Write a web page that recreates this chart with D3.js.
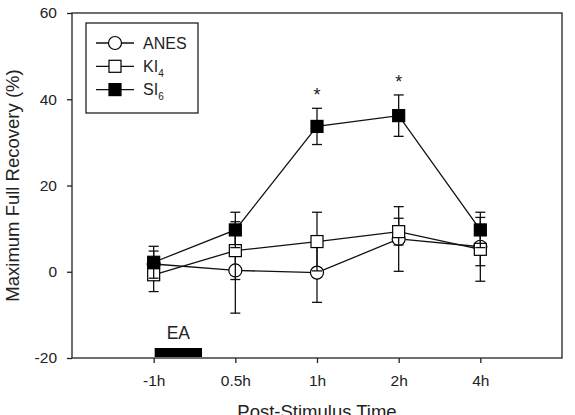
<!DOCTYPE html>
<html>
<head>
<meta charset="utf-8">
<script src="https://cdn.jsdelivr.net/npm/d3@7"></script>
<style>
  body { margin: 0; background: #fff; }
  svg { display: block; }
  text { font-family: "Liberation Sans", Arial, sans-serif; fill: #222; }
</style>
</head>
<body>
<div id="chart"></div>
<script>
'use strict'

// tick labels / categories
const times = ['-1h', '0.5h', '1h', '2h', '4h']
const yTicks = [-20, 0, 20, 40, 60]

// series values (mean, error)
const anesMean = [1.8, 0.3, -0.2, 7.6, 5.8]
const anesErr = [3.0, 9.9, 6.9, 7.5, 4.4]
const kiMean = [-0.7, 4.9, 7.0, 9.3, 5.2]
const kiErr = [3.9, 6.7, 6.8, 3.1, 7.4]
const siMean = [2.2, 9.7, 33.7, 36.2, 9.7]
const siErr = [3.7, 4.1, 4.2, 4.8, 4.1]

// significance markers
const starIdx = [2, 3]
// stimulus (EA) period, in category units
const eaSpan = [0, 0.58]

const svgWidth = 575, svgHeight = 415
const margin = {left: 72, right: 13, top: 13, bottom: 57}

const svg = d3.select('#chart').append('svg')
    .attr('width', svgWidth)
    .attr('height', svgHeight)

const x = d3.scaleLinear().domain([-1, times.length]).range([margin.left, svgWidth - margin.right])
const y = d3.scaleLinear().domain([-20, 60]).range([svgHeight - margin.bottom, margin.top])

const series = [
    {name: 'ANES', sub: '', mean: anesMean, err: anesErr, shape: 'circle', fill: '#fff'},
    {name: 'KI', sub: '4', mean: kiMean, err: kiErr, shape: 'square', fill: '#fff'},
    {name: 'SI', sub: '6', mean: siMean, err: siErr, shape: 'square', fill: '#000'}
]

// frame
svg.append('rect')
    .attr('x', x.range()[0]).attr('y', y.range()[1])
    .attr('width', x.range()[1] - x.range()[0])
    .attr('height', y.range()[0] - y.range()[1])
    .attr('fill', 'none')
    .attr('stroke', '#222')
    .attr('stroke-width', 1.3)

// axes
const xAxis = svg.append('g')
    .attr('transform', `translate(0,${y.range()[0]})`)
    .call(d3.axisBottom(x).tickValues(d3.range(times.length)).tickFormat(i => times[i]).tickSize(5).tickPadding(12))
const yAxis = svg.append('g')
    .attr('transform', `translate(${x.range()[0]},0)`)
    .call(d3.axisLeft(y).tickValues(yTicks).tickFormat(d => String(d)).tickSize(5).tickPadding(10))

;[xAxis, yAxis].forEach(g => {
    g.select('.domain').remove()
    g.selectAll('line').attr('stroke', '#222').attr('stroke-width', 1.3)
    g.selectAll('text').attr('font-size', 15.5).attr('fill', '#222')
        .attr('font-family', '"Liberation Sans", Arial, sans-serif')
})

// axis titles
svg.append('text')
    .attr('x', (x.range()[0] + x.range()[1]) / 2)
    .attr('y', 418)
    .attr('text-anchor', 'middle')
    .attr('font-size', 18.5)
    .text('Post-Stimulus Time')

svg.append('text')
    .attr('transform', `translate(19,${(y.range()[0] + y.range()[1]) / 2}) rotate(-90)`)
    .attr('text-anchor', 'middle')
    .attr('font-size', 18.5)
    .text('Maximum Full Recovery (%)')

// EA bar
svg.append('rect')
    .attr('x', x(eaSpan[0]) + 1)
    .attr('width', x(eaSpan[1]) - x(eaSpan[0]))
    .attr('y', y.range()[0] - 10)
    .attr('height', 9)
    .attr('fill', '#000')
svg.append('text')
    .attr('x', (x(eaSpan[0]) + x(eaSpan[1])) / 2 + 1)
    .attr('y', 339)
    .attr('text-anchor', 'middle')
    .attr('font-size', 17.5)
    .text('EA')

function marker(g, shape, fill) {
    if (shape === 'circle') {
        g.append('circle').attr('r', 6.5)
            .attr('fill', fill).attr('stroke', '#000').attr('stroke-width', 1.2)
    } else {
        g.append('rect').attr('x', -6).attr('y', -6).attr('width', 12).attr('height', 12)
            .attr('fill', fill).attr('stroke', '#000').attr('stroke-width', 1.2)
    }
}

const line = d3.line().x((d, i) => x(i)).y(d => y(d))
const cap = 5

series.forEach(s => {
    const g = svg.append('g')
    g.append('path')
        .attr('d', line(s.mean))
        .attr('fill', 'none')
        .attr('stroke', '#111')
        .attr('stroke-width', 1.3)

    const eb = g.selectAll('.eb').data(s.mean).join('g')
    eb.append('line')
        .attr('x1', (d, i) => x(i)).attr('x2', (d, i) => x(i))
        .attr('y1', (d, i) => y(d + s.err[i])).attr('y2', (d, i) => y(d - s.err[i]))
    eb.append('line')
        .attr('x1', (d, i) => x(i) - cap).attr('x2', (d, i) => x(i) + cap)
        .attr('y1', (d, i) => y(d + s.err[i])).attr('y2', (d, i) => y(d + s.err[i]))
    eb.append('line')
        .attr('x1', (d, i) => x(i) - cap).attr('x2', (d, i) => x(i) + cap)
        .attr('y1', (d, i) => y(d - s.err[i])).attr('y2', (d, i) => y(d - s.err[i]))
    eb.selectAll('line').attr('stroke', '#111').attr('stroke-width', 1.3)

    g.selectAll('.pt').data(s.mean).join('g')
        .attr('transform', (d, i) => `translate(${x(i)},${y(d)})`)
        .each(function () { marker(d3.select(this), s.shape, s.fill) })
})

// stars
svg.selectAll('.star').data(starIdx).join('text')
    .attr('x', i => x(i))
    .attr('y', i => y(siMean[i] + siErr[i]) - 7)
    .attr('text-anchor', 'middle')
    .attr('font-size', 18)
    .text('*')

// legend
const legend = svg.append('g').attr('transform', 'translate(86,23)')
legend.append('rect')
    .attr('width', 112).attr('height', 90)
    .attr('fill', '#fff').attr('stroke', '#222').attr('stroke-width', 1.3)

series.forEach((s, k) => {
    const row = legend.append('g').attr('transform', `translate(0,${20 + k * 23.3})`)
    row.append('line').attr('x1', 10).attr('x2', 48).attr('stroke', '#111').attr('stroke-width', 1.3)
    marker(row.append('g').attr('transform', 'translate(29,0)'), s.shape, s.fill)
    const t = row.append('text').attr('x', 57).attr('dy', '0.35em').attr('font-size', 16)
    t.append('tspan').text(s.name)
    if (s.sub) t.append('tspan').attr('font-size', 10).attr('dy', 5).text(s.sub)
})
</script>
</body>
</html>
